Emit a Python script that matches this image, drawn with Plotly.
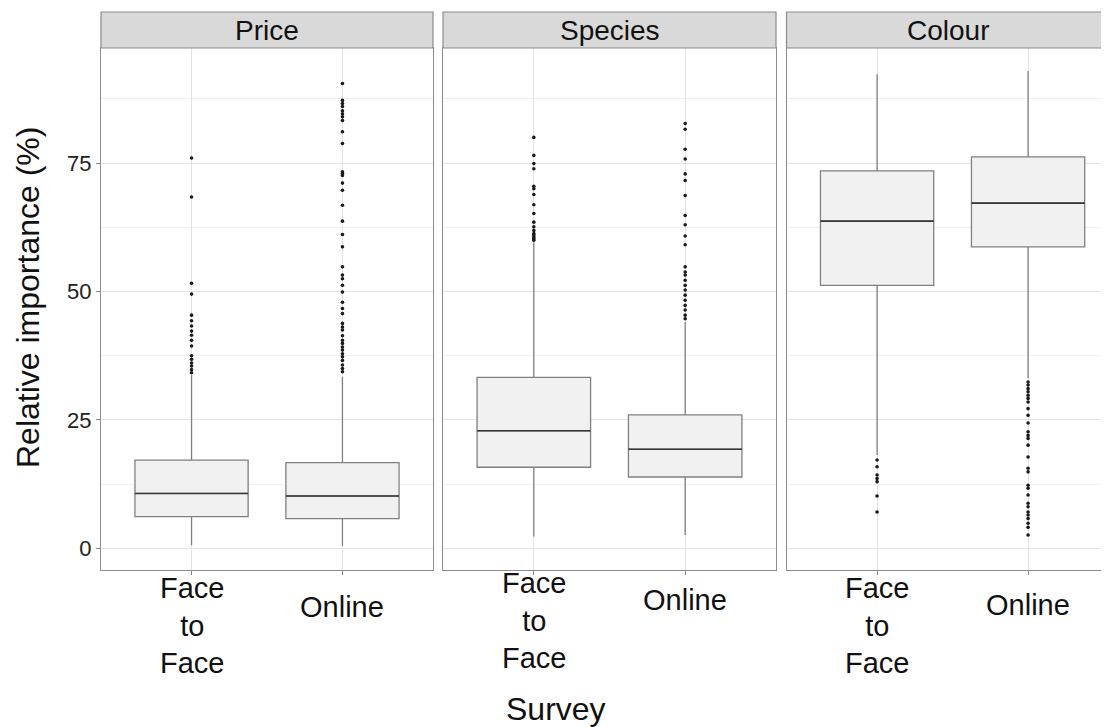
import plotly.graph_objects as go

# ---------------- data ----------------
attributes = ["Price", "Species", "Colour"]
surveys = ["Face to Face", "Online"]

# box statistics, one value per attribute (Price, Species, Colour)
ftf_lower = [0.6, 2.3, 18.2]
ftf_q1 = [6.2, 15.8, 51.2]
ftf_median = [10.7, 22.9, 63.7]
ftf_q3 = [17.2, 33.3, 73.5]
ftf_upper = [33.7, 59.6, 92.3]

online_lower = [0.45, 2.6, 33.1]
online_q1 = [5.8, 13.9, 58.7]
online_median = [10.2, 19.3, 67.2]
online_q3 = [16.7, 26.0, 76.2]
online_upper = [33.4, 44.1, 92.9]

# outliers
price_ftf_out = [34.2, 34.8, 35.5, 36.1, 36.8, 37.5, 39.4, 40.5, 41.5, 42.3, 43.3,
                 44.3, 45.4, 49.5, 51.6, 68.4, 76.0]
price_online_out = [34.4, 35.0, 35.7, 36.6, 37.3, 37.9, 38.6, 39.2, 39.9, 40.5, 41.4,
                    42.5, 43.1, 43.8, 45.7, 46.7, 47.9, 49.9, 51.2, 52.5, 53.2, 54.8,
                    58.7, 61.1, 63.7, 66.8, 69.7, 71.1, 72.6, 73.0, 73.3, 78.8, 81.1,
                    83.3, 84.0, 84.6, 85.2, 86.0, 86.6, 87.2, 90.5]
species_ftf_out = [60.0, 60.3, 60.6, 61.0, 61.3, 61.9, 62.6, 63.5, 65.2, 66.9, 68.9,
                   70.0, 70.5, 73.9, 74.9, 76.5, 80.0]
species_online_out = [44.7, 45.4, 46.4, 47.3, 48.3, 49.3, 50.3, 51.2, 52.2, 53.2, 53.8,
                      54.8, 59.1, 60.8, 63.0, 64.8, 68.7, 71.6, 72.9, 75.8, 77.7, 81.6,
                      82.7]
colour_ftf_out = [17.2, 15.9, 14.3, 13.6, 13.0, 10.2, 7.1]
colour_online_out = [32.4, 31.8, 31.1, 30.5, 29.8, 29.2, 28.5, 27.2, 25.9, 24.4, 22.7,
                     22.0, 21.4, 20.1, 17.8, 15.6, 14.9, 12.3, 11.7, 10.4, 8.8, 8.1,
                     7.1, 6.5, 5.8, 4.9, 4.1, 2.6]

y_ticks = [0, 25, 50, 75]
y_minor = [12.5, 37.5, 62.5, 87.5]
x_labels = ["Face<br>to<br>Face", "Online"]
y_title = "Relative importance (%)"
x_title = "Survey"

outliers_ftf = [price_ftf_out, species_ftf_out, colour_ftf_out]
outliers_online = [price_online_out, species_online_out, colour_online_out]

# ---------------- styling ----------------
FONT = "Arial, Liberation Sans, sans-serif"
BORDER = "#8c8c8c"
GRID = "#e3e3e3"
GRID_MINOR = "#f1f1f1"
BOX_LINE = "#808080"
BOX_FILL = "#f1f1f1"
MEDIAN = "#383838"

# the page body has an 8px margin, so the figure starts at (8, 8) in the window
OFF = 8
WIN_W, WIN_H = 1109, 727
PANEL_L, PANEL_T, PANEL_B = 101, 48, 570
W, H = WIN_W - OFF, WIN_H - OFF
ML, MR, MT, MB = PANEL_L - OFF, 0, PANEL_T - OFF, WIN_H - PANEL_B
PW = W - ML - MR
PH = H - MT - MB

def px_x(p):
    return (p - PANEL_L) / PW

def px_y(p):
    return (PANEL_B - p) / PH

domains = [[px_x(101), px_x(433)], [px_x(443), px_x(776)], [px_x(786.5), 1.0]]
x_ranges = [[-0.6, 1.6], [-0.6, 1.6], [-0.6, 1.536]]
y_range = [-4.2, 97.4]

fig = go.Figure()

for i, att in enumerate(attributes):
    xa = "x" if i == 0 else f"x{i+1}"
    ya = "y" if i == 0 else f"y{i+1}"
    # box
    fig.add_trace(go.Box(
        x=surveys,
        lowerfence=[ftf_lower[i], online_lower[i]],
        q1=[ftf_q1[i], online_q1[i]],
        median=[ftf_median[i], online_median[i]],
        q3=[ftf_q3[i], online_q3[i]],
        upperfence=[ftf_upper[i], online_upper[i]],
        boxpoints=False, width=0.75, whiskerwidth=0,
        fillcolor=BOX_FILL, line=dict(color=BOX_LINE, width=1.3),
        xaxis=xa, yaxis=ya, showlegend=False, hoverinfo="skip",
    ))
    # darker median line (degenerate box at the median)
    meds = [ftf_median[i], online_median[i]]
    fig.add_trace(go.Box(
        x=surveys, lowerfence=meds, q1=meds, median=meds, q3=meds, upperfence=meds,
        boxpoints=False, width=0.75, whiskerwidth=0,
        fillcolor="rgba(0,0,0,0)", line=dict(color=MEDIAN, width=1.6),
        xaxis=xa, yaxis=ya, showlegend=False, hoverinfo="skip",
    ))
    # outliers
    for s, vals in zip(surveys, [outliers_ftf[i], outliers_online[i]]):
        fig.add_trace(go.Scatter(
            x=[s] * len(vals), y=vals, mode="markers",
            marker=dict(size=3.6, color="#1a1a1a"),
            xaxis=xa, yaxis=ya, showlegend=False, hoverinfo="skip",
        ))

layout = dict(
    width=W, height=H,
    margin=dict(l=ML, r=MR, t=MT, b=MB, pad=0),
    paper_bgcolor="white", plot_bgcolor="white",
    boxmode="overlay",
    font=dict(family=FONT, color="#1a1a1a"),
    showlegend=False,
)

for i in range(3):
    xk = "xaxis" if i == 0 else f"xaxis{i+1}"
    yk = "yaxis" if i == 0 else f"yaxis{i+1}"
    ya = "y" if i == 0 else f"y{i+1}"
    xa = "x" if i == 0 else f"x{i+1}"
    layout[xk] = dict(
        domain=domains[i], anchor=ya, type="category",
        categoryorder="array", categoryarray=surveys,
        range=x_ranges[i], fixedrange=True,
        showgrid=True, gridcolor=GRID, gridwidth=1.2,
        showline=True, linecolor=BORDER, linewidth=1.2, mirror=True,
        ticks="outside", ticklen=4, tickcolor=BORDER, tickwidth=1,
        showticklabels=False, zeroline=False,
    )
    yd = dict(
        domain=[0, 1], anchor=xa, range=y_range, fixedrange=True,
        tickvals=y_ticks,
        showgrid=True, gridcolor=GRID, gridwidth=1.2,
        minor=dict(tickvals=y_minor, showgrid=True, gridcolor=GRID_MINOR, gridwidth=1),
        showline=True, linecolor=BORDER, linewidth=1.2,
        zeroline=False,
    )
    if i == 0:
        yd.update(ticks="outside", ticklen=4, tickcolor=BORDER, tickwidth=1,
                  tickfont=dict(size=22, color="#222222", family=FONT),
                  showticklabels=True, mirror=True)
    else:
        yd.update(matches="y", ticks="", showticklabels=False,
                  mirror=(True if i == 1 else False))
    layout[yk] = yd

fig.update_layout(**layout)

# strips
strip_y0 = 1.0
strip_y1 = px_y(12)
for i, att in enumerate(attributes):
    xa = "x" if i == 0 else f"x{i+1}"
    fig.add_shape(type="rect", xref=f"{xa} domain", yref="paper",
                  x0=0, x1=(1.03 if i == 2 else 1), y0=strip_y0, y1=strip_y1,
                  fillcolor="#d9d9d9", line=dict(color=BORDER, width=1.2), layer="above")
    fig.add_annotation(text=att, xref=f"{xa} domain", yref="paper",
                       x=0.5, y=(strip_y0 + strip_y1) / 2, xanchor="center", yanchor="middle",
                       showarrow=False, font=dict(size=28, color="#111111", family=FONT))

# x category labels
ftf_centers = [625, 620, 625]
online_centers = [607, 600, 605]
for i in range(3):
    xa = "x" if i == 0 else f"x{i+1}"
    for s, lab, cy in zip(surveys, x_labels, [ftf_centers[i], online_centers[i]]):
        fig.add_annotation(text=lab, xref=xa, yref="paper", x=s, y=px_y(cy),
                           xanchor="center", yanchor="middle", showarrow=False,
                           font=dict(size=29, color="#111111", family=FONT))

# axis titles
fig.add_annotation(text=x_title, xref="paper", yref="paper", x=px_x(556), y=px_y(709),
                   xanchor="center", yanchor="middle", showarrow=False,
                   font=dict(size=32, color="#111111", family=FONT))
fig.add_annotation(text=y_title, xref="paper", yref="paper", x=px_x(27.5), y=px_y(297.5),
                   xanchor="center", yanchor="middle", textangle=-90, showarrow=False,
                   font=dict(size=32, color="#111111", family=FONT))

fig.write_html("out.html")
